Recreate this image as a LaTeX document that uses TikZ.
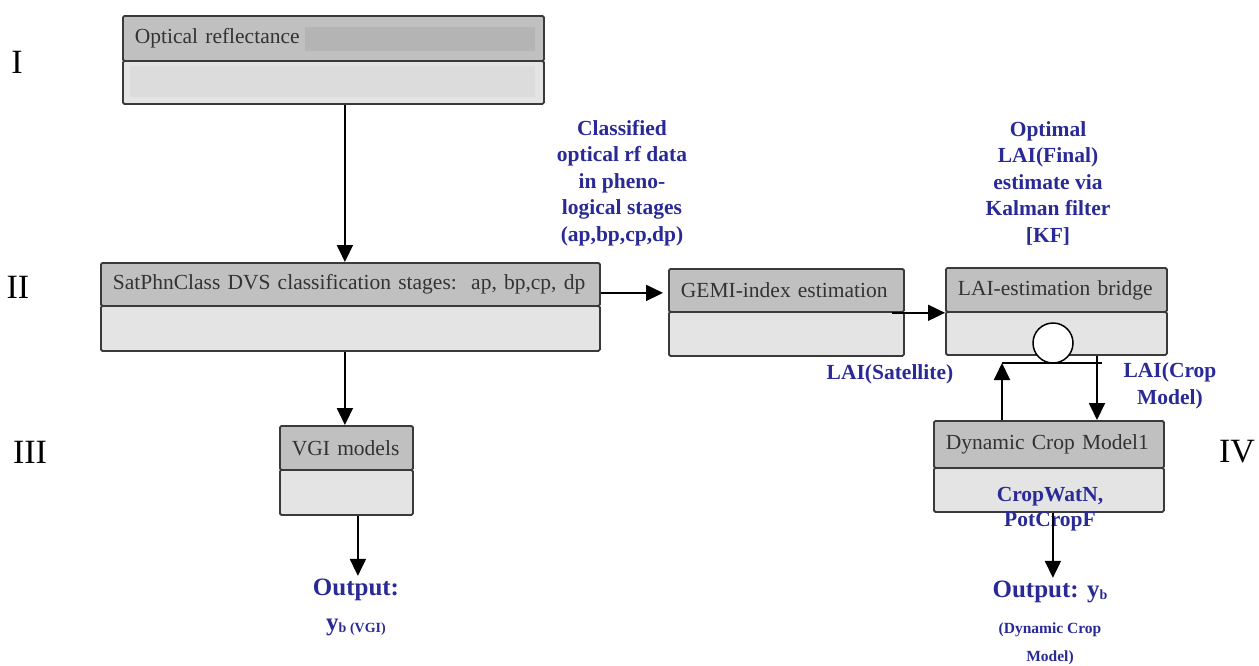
\documentclass[tikz,border=0pt]{standalone}
\usepackage{fontspec}
\setmainfont{Liberation Serif}
\usetikzlibrary{arrows.meta,calc}
\definecolor{hdrgray}{HTML}{C0C0C0}
\definecolor{bodygray}{HTML}{E4E4E4}
\definecolor{edgegray}{HTML}{3A3A3A}
\definecolor{txtgray}{HTML}{333333}
\definecolor{patchgray}{HTML}{B4B4B4}
\definecolor{innergray}{HTML}{DCDCDC}
\definecolor{lblue}{HTML}{2A2A96}
\begin{document}
\begin{tikzpicture}[x=1pt,y=-1pt,
  hdr/.style={draw=edgegray, line width=1.8pt, fill=hdrgray, rounded corners=1.5pt,
    anchor=north west, inner xsep=12pt, inner ysep=0pt, align=left,
    font=\fontsize{21.5}{25}\selectfont, text=txtgray},
  bodybox/.style={draw=edgegray, line width=1.8pt, fill=bodygray, rounded corners=1.5pt,
    anchor=north west, inner sep=0pt},
  arr/.style={-{Triangle[width=16pt,length=17pt]}, line width=1.9pt, black},
  lbl/.style={font=\fontsize{21.5}{26.5}\selectfont\bfseries, text=lblue, align=center, inner sep=0pt},
  outlbl/.style={font=\fontsize{25}{28}\selectfont\bfseries, text=lblue, align=center, inner sep=0pt},
  roman/.style={font=\fontsize{34}{36}\selectfont, text=black, inner sep=0pt}
]
\useasboundingbox (0,0) rectangle (1259,665);

% Box I
\node[hdr, text width=397pt, minimum height=45pt] (Ih) at (122,15) {Optical reflectance};
\node[bodybox, minimum width=421pt, minimum height=43pt] (Ib) at (122,60) {};
\fill[patchgray] (305,27) rectangle (535,51);
\fill[innergray] (130,66) rectangle (535,97);

% Box II
\node[hdr, text width=475pt, minimum height=43pt] (IIh) at (100,262) {SatPhnClass DVS classification stages:\ \ ap, bp,cp, dp};
\node[bodybox, minimum width=499pt, minimum height=45pt] (IIb) at (100,305) {};

% GEMI
\node[hdr, text width=211pt, minimum height=43pt] (GEMIh) at (668,268) {GEMI-index estimation};
\node[bodybox, minimum width=235pt, minimum height=44pt] (GEMIb) at (668,311) {};

% LAI bridge
\node[hdr, text width=197pt, minimum height=44pt] (LAIh) at (945,267) {LAI-estimation bridge};
\node[bodybox, minimum width=221pt, minimum height=43pt] (LAIb) at (945,311) {};

% VGI
\node[hdr, text width=109pt, minimum height=44pt] (VGIh) at (279,425) {VGI models};
\node[bodybox, minimum width=133pt, minimum height=45pt] (VGIb) at (279,469) {};

% Dynamic crop model
\node[hdr, text width=206pt, minimum height=47pt] (DCMh) at (933,420) {Dynamic Crop Model1};
\node[bodybox, minimum width=230pt, minimum height=44pt] (DCMb) at (933,467) {};

% circle and bar
\node[circle, draw=black, line width=1.5pt, fill=white, minimum size=40pt, inner sep=0pt] (circ) at (1053,343) {};
\coordinate (bl) at (1002,363);
\coordinate (br) at (1102,363);
\coordinate (dn) at (1097,354);
\draw[line width=1.5pt] (bl) -- (br);

% texts
\node[lbl] (cls) at (622,183) {Classified\\optical rf data\\in pheno-\\logical stages\\(ap,bp,cp,dp)};
\node[lbl] (opt) at (1048,183) {Optimal\\LAI(Final)\\estimate via\\Kalman filter\\{[KF]}};
\node[lbl] (sat) at (890,374) {LAI(Satellite)};
\node[lbl, font=\fontsize{21.5}{27}\selectfont\bfseries] (crop) at (1170,386) {LAI(Crop\\Model)};
\node[lbl, font=\fontsize{21.5}{25}\selectfont\bfseries] (cw) at (1050,509) {CropWatN,\\PotCropF};

\node[outlbl] (outV) at (356,590) {Output:};
\node[outlbl] (outVb) at (356,627) {y{\fontsize{14}{16}\selectfont\raisebox{-2pt}{b (VGI)}}};
\node[outlbl] (outD) at (1050,592) {Output: y{\fontsize{14}{16}\selectfont\raisebox{-2pt}{b}}};
\node[lbl, font=\fontsize{15.5}{28}\selectfont\bfseries] (outDb) at (1050,644) {(Dynamic Crop\\Model)};

\node[roman] (rI) at (17,62) {I};
\node[roman] (rII) at (18,287) {II};
\node[roman] (rIII) at (30,452) {III};
\node[roman] (rIV) at (1237,452) {IV};

% arrows
\draw[arr] ([xshift=11.5pt]Ib.south) -- ([xshift=11.5pt]Ib.south |- IIh.north);
\draw[arr] ([xshift=-5.5pt]IIb.south) -- ([xshift=-5.5pt]IIb.south |- VGIh.north);
\draw[arr] ([yshift=-8.5pt]IIh.east) -- ([yshift=-8.5pt,xshift=-5pt]IIh.east -| GEMIh.west);
\draw[arr] ([xshift=-13pt]GEMIh.south east) -- (LAIh.south west);
\draw[arr] (DCMh.north -| bl) -- (bl);
\draw[arr] (LAIb.south -| dn) -- (DCMh.north -| dn);
\draw[arr] ([xshift=11.5pt]VGIb.south) -- ([xshift=11.5pt,yshift=3pt]VGIb.south |- outV.north);
\draw[arr] ([xshift=4pt]DCMb.south) -- ([xshift=4pt,yshift=3pt]DCMb.south |- outD.north);
\end{tikzpicture}
\end{document}
